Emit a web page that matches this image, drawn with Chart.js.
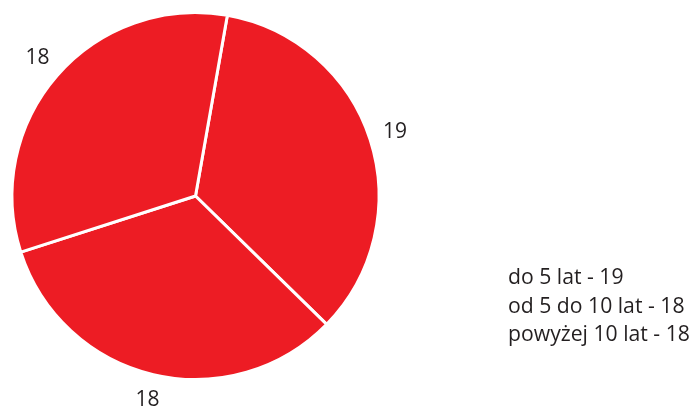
<!DOCTYPE html>
<html>
<head>
<meta charset="utf-8">
<script src="https://cdn.jsdelivr.net/npm/chart.js@4.4.0/dist/chart.umd.min.js"></script>
<style>
  html, body { margin: 0; padding: 0; background: #fff; }
  canvas { display: block; }
</style>
</head>
<body>
<canvas id="chart" width="696" height="410"></canvas>
<script>
// age groups and how many in each
const categories = ['do 5 lat', 'od 5 do 10 lat', 'powyżej 10 lat'];
const counts = [19, 18, 18];

const FONT = '"Open Sans", sans-serif';
const TEXT_COLOR = '#231f20';

// numbers placed just outside each slice, at its middle angle
const sliceLabels = {
  id: 'sliceLabels',
  afterDatasetsDraw(chart) {
    const ctx = chart.ctx;
    const meta = chart.getDatasetMeta(0);
    ctx.save();
    ctx.font = '21px ' + FONT;
    ctx.fillStyle = TEXT_COLOR;
    ctx.textAlign = 'center';
    ctx.textBaseline = 'middle';
    meta.data.forEach((arc, i) => {
      const { x, y, startAngle, endAngle, outerRadius } = arc.getProps(['x', 'y', 'startAngle', 'endAngle', 'outerRadius'], true);
      const mid = (startAngle + endAngle) / 2;
      const r = outerRadius + 26;
      ctx.fillText(String(chart.data.datasets[0].data[i]), x + Math.cos(mid) * r, y + Math.sin(mid) * r);
    });
    ctx.restore();
  }
};

// plain text legend on the right, no colour boxes
const textLegend = {
  id: 'textLegend',
  afterDraw(chart) {
    const ctx = chart.ctx;
    const data = chart.data.datasets[0].data;
    ctx.save();
    ctx.font = '21.2px ' + FONT;
    ctx.fillStyle = TEXT_COLOR;
    ctx.textAlign = 'left';
    ctx.textBaseline = 'alphabetic';
    chart.data.labels.forEach((label, i) => {
      ctx.fillText(label + ' - ' + data[i], 508, 284 + i * 28.5);
    });
    ctx.restore();
  }
};

new Chart(document.getElementById('chart').getContext('2d'), {
  type: 'pie',
  data: {
    labels: categories,
    datasets: [{
      data: counts,
      backgroundColor: '#ed1c24',
      borderColor: '#ffffff',
      borderWidth: 3,
      hoverOffset: 0
    }]
  },
  options: {
    responsive: false,
    animation: false,
    rotation: 10,
    layout: { padding: { left: 9, top: 11, right: 314, bottom: 29 } },
    plugins: {
      legend: { display: false },
      tooltip: { enabled: false }
    }
  },
  plugins: [sliceLabels, textLegend]
});
</script>
</body>
</html>
